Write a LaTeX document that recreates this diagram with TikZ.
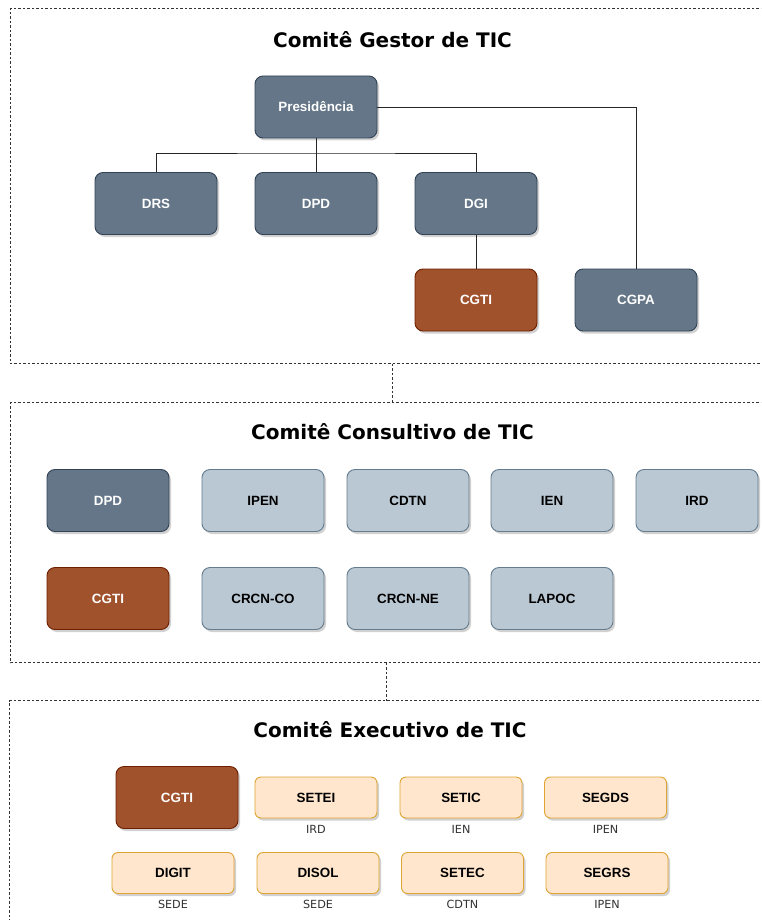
\documentclass[tikz,border=0pt]{standalone}
\usepackage{fontspec}
\setmainfont{Liberation Sans}
\newfontfamily\titlefont{DejaVu Sans}
\usetikzlibrary{shadows}
\definecolor{slatefill}{HTML}{647687}
\definecolor{slatedraw}{HTML}{314354}
\definecolor{brownfill}{HTML}{A0522D}
\definecolor{browndraw}{HTML}{6D1F00}
\definecolor{bluefill}{HTML}{BAC8D3}
\definecolor{bluedraw}{HTML}{23445D}
\definecolor{orangefill}{HTML}{FFE6CC}
\definecolor{orangedraw}{HTML}{DFA532}
\definecolor{labelgrey}{HTML}{333333}
\tikzset{
  box/.style={rectangle, rounded corners=8pt, line width=0.9pt, minimum width=122pt, minimum height=62pt, inner sep=0pt,
    font=\fontsize{13.4}{15}\selectfont\bfseries,
    drop shadow={shadow xshift=2pt, shadow yshift=-2.5pt, fill=black, opacity=0.18}},
  slatebox/.style={box, fill=slatefill, draw=slatedraw, text=white},
  brownbox/.style={box, fill=brownfill, draw=browndraw, text=white},
  bluebox/.style={box, fill=bluefill, draw=bluedraw!70, text=black},
  orangebox/.style={box, rounded corners=6pt, minimum height=41pt, fill=orangefill, draw=orangedraw, text=black},
  sublabel/.style={inner sep=0pt, text=labelgrey, font=\titlefont\fontsize{11.2}{13}\selectfont},
  title/.style={inner sep=0pt, font=\titlefont\fontsize{20}{24}\selectfont\bfseries},
  conn/.style={draw=black!85, line width=0.8pt},
  section/.style={draw=black!80, line width=0.8pt, dash pattern=on 2.5pt off 2pt},
}
\begin{document}
\begin{tikzpicture}[x=1pt, y=-1pt]
\useasboundingbox (0,0) rectangle (761,920);
\clip (0,0) rectangle (761,920);
\fill[white] (0,0) rectangle (761,920);

% ---------- section frames ----------
\draw[section] (790,8.5) -- (10.5,8.5) -- (10.5,363.5) -- (790,363.5);
\draw[section] (790,402.5) -- (10.5,402.5) -- (10.5,662.5) -- (790,662.5);
\draw[section] (790,700.5) -- (9.5,700.5) -- (9.5,950);
\coordinate (s1b) at (392,363.5);
\coordinate (s2t) at (392,402.5);
\coordinate (s2b) at (386,662.5);
\coordinate (s3t) at (386,700.5);
\draw[section] (s1b) -- (s2t);
\draw[section] (s2b) -- (s3t);

% ---------- Comitê Gestor ----------
\node[title] (t1) at (392.5,40) {Comitê Gestor de TIC};
\node[slatebox] (pres) at (316,107) {Presidência};
\node[slatebox] (drs) at (156,203.5) {DRS};
\node[slatebox] (dpda) at (316,203.5) {DPD};
\node[slatebox] (dgi) at (476,203.5) {DGI};
\node[brownbox] (cgtia) at (476,300) {CGTI};
\node[slatebox] (cgpa) at (636,300) {CGPA};
\coordinate (bus) at (316,153);
\draw[conn] (pres.south) -- (bus);
\draw[conn] (drs.north) |- (bus) -| (dgi.north);
\draw[conn] (bus) -- (dpda.north);
\draw[conn] (pres.east) -| (cgpa.north);
\draw[conn] (dgi.south) -- (cgtia.north);

% ---------- Comitê Consultivo ----------
\node[title] (t2) at (392.5,432) {Comitê Consultivo de TIC};
\node[slatebox] (dpdb) at (108,500.5) {DPD};
\node[bluebox] (ipen) at (263,500.5) {IPEN};
\node[bluebox] (cdtn) at (408,500.5) {CDTN};
\node[bluebox] (ien) at (552,500.5) {IEN};
\node[bluebox] (ird) at (697,500.5) {IRD};
\node[brownbox] (cgtib) at (108,598.5) {CGTI};
\node[bluebox] (crcnco) at (263,598.5) {CRCN-CO};
\node[bluebox] (crcnne) at (408,598.5) {CRCN-NE};
\node[bluebox] (lapoc) at (552,598.5) {LAPOC};

% ---------- Comitê Executivo ----------
\node[title] (t3) at (390,729.5) {Comitê Executivo de TIC};
\node[brownbox] (cgtic) at (177,797.5) {CGTI};
\node[orangebox] (setei) at (316,797.5) {SETEI};
\node[orangebox] (setic) at (461,797.5) {SETIC};
\node[orangebox] (segds) at (605.5,797.5) {SEGDS};
\node[orangebox] (digit) at (173,873) {DIGIT};
\node[orangebox] (disol) at (318,873) {DISOL};
\node[orangebox] (setec) at (462.5,873) {SETEC};
\node[orangebox] (segrs) at (607,873) {SEGRS};
\node[sublabel] (lsetei) at (316,829) {IRD};
\node[sublabel] (lsetic) at (461,829) {IEN};
\node[sublabel] (lsegds) at (605.5,829) {IPEN};
\node[sublabel] (ldigit) at (173,904.5) {SEDE};
\node[sublabel] (ldisol) at (318,904.5) {SEDE};
\node[sublabel] (lsetec) at (462.5,904.5) {CDTN};
\node[sublabel] (lsegrs) at (607,904.5) {IPEN};
\end{tikzpicture}
\end{document}
